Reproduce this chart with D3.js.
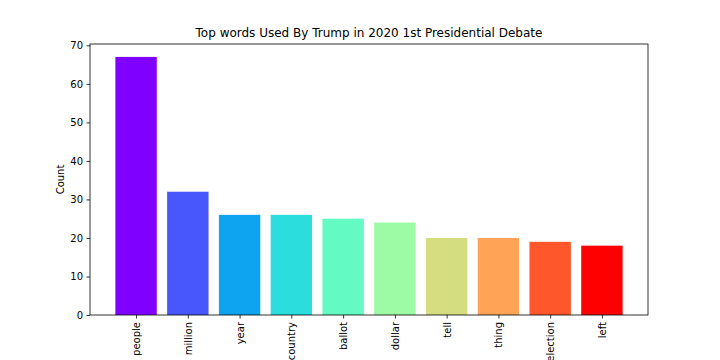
<!DOCTYPE html>
<html><head><meta charset="utf-8">
<script src="https://cdn.jsdelivr.net/npm/d3@7"></script>
<style>body{margin:0;background:#fff}svg{display:block;font-family:"DejaVu Sans",sans-serif}</style>
</head><body><svg id="c" width="720" height="360"></svg>
<script>
const categories = ["people","million","year","country","ballot","dollar","tell","thing","election","left"];
const counts = [67,32,26,26,25,24,20,20,19,18];
const colors = ["#8000ff","#4757fb","#0ea4f0","#2bdddd","#63fbc3","#9cfba4","#d4dd80","#ffa457","#ff572c","#ff0000"];
const yTicks = [0,10,20,30,40,50,60,70];
const title = "Top words Used By Trump in 2020 1st Presidential Debate";
const yLabel = "Count";

const svg = d3.select("#c");
const L=90,R=648,T=44,B=315;
const n = categories.length;
const x = d3.scaleLinear().domain([-0.89, n-1+0.89]).range([L,R]);
const y = d3.scaleLinear().domain([0, 70.35]).range([B,T]);

svg.append("g").selectAll("rect").data(categories).join("rect")
  .attr("x",(d,i)=>x(i-0.4)).attr("width",(d,i)=>x(i+0.4)-x(i-0.4))
  .attr("y",(d,i)=>y(counts[i])).attr("height",(d,i)=>y(0)-y(counts[i]))
  .attr("fill",(d,i)=>colors[i]);

const ya = svg.append("g").attr("transform",`translate(${L},0)`)
  .call(d3.axisLeft(y).tickValues(yTicks).tickSize(3.5).tickPadding(3.5).tickFormat(d3.format("d")));
ya.select(".domain").remove();
ya.selectAll("text").attr("font-size",10).attr("fill","#000").attr("font-family","DejaVu Sans");
ya.selectAll("line").attr("stroke","#000").attr("stroke-width",0.8);

const xa = svg.append("g").attr("transform",`translate(0,${B})`)
  .call(d3.axisBottom(x).tickValues(d3.range(n)).tickSize(3.5).tickFormat(i=>categories[i]));
xa.select(".domain").remove();
xa.selectAll("line").attr("stroke","#000").attr("stroke-width",0.8);
xa.selectAll("text").attr("font-size",10).attr("fill","#000").attr("font-family","DejaVu Sans")
  .attr("transform","rotate(-90)").attr("text-anchor","end").attr("x",-7).attr("y",0).attr("dy","0.35em");

svg.append("rect").attr("x",L).attr("y",T).attr("width",R-L).attr("height",B-T)
  .attr("fill","none").attr("stroke","#000").attr("stroke-width",0.8);

svg.append("text").attr("x",(L+R)/2).attr("y",37).attr("text-anchor","middle")
  .attr("font-size",12).text(title);
svg.append("text").attr("transform",`translate(64,${(T+B)/2}) rotate(-90)`).attr("text-anchor","middle")
  .attr("font-size",10).text(yLabel);
</script></body></html>
